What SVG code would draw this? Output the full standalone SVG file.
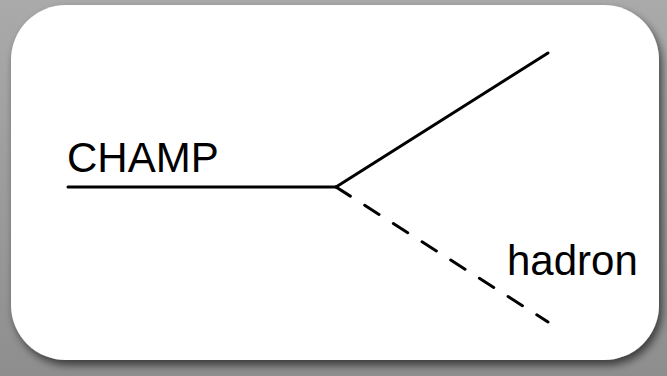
<svg xmlns="http://www.w3.org/2000/svg" width="667" height="376" viewBox="0 0 667 376">
<defs>
<linearGradient id="bg" x1="0" y1="0" x2="0" y2="1">
<stop offset="0" stop-color="#aaaaaa"/>
<stop offset="1" stop-color="#8e8e8e"/>
</linearGradient>
<filter id="sh" x="-5%" y="-5%" width="112%" height="115%">
<feGaussianBlur in="SourceAlpha" stdDeviation="4"/>
<feOffset dx="3" dy="5" result="b"/>
<feComponentTransfer><feFuncA type="linear" slope="0.6"/></feComponentTransfer>
<feMerge><feMergeNode/><feMergeNode in="SourceGraphic"/></feMerge>
</filter>
<style>
.ln{stroke:#000;stroke-width:3;fill:none;stroke-linecap:round}
.lbl{font-family:"Liberation Sans",Arial,sans-serif;font-size:42px;fill:#000}
</style>
</defs>
<rect x="0" y="0" width="667" height="376" fill="url(#bg)"/>
<rect x="11" y="5" width="648" height="355" rx="55" ry="55" fill="#fff" filter="url(#sh)"/>
<g id="connectors">
<line class="ln" x1="68" y1="187" x2="336" y2="187"/>
<line class="ln" x1="336" y1="187" x2="548" y2="53"/>
<line class="ln" x1="336" y1="187" x2="548" y2="322" stroke-dasharray="17 17"/>
</g>
<g id="champ"><text class="lbl" x="67" y="172">CHAMP</text></g>
<g id="hadron"><text class="lbl" x="507" y="275">hadron</text></g>
</svg>
